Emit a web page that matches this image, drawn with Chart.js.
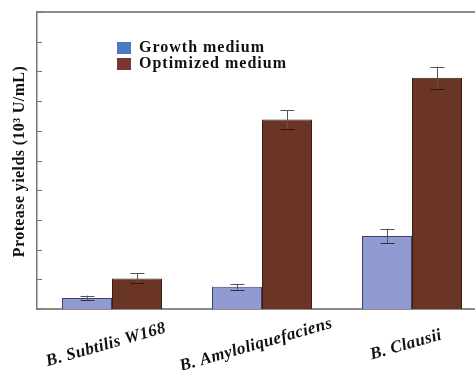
<!DOCTYPE html>
<html><head><meta charset="utf-8">
<style>html,body{margin:0;padding:0;overflow:hidden;background:#fff}#wrap{width:490px;height:370px}</style>
<script src="https://cdn.jsdelivr.net/npm/chart.js@4"></script>
</head><body>
<div id="wrap"><canvas id="c" width="490" height="370"></canvas></div>
<script>
const categories = ['B. Subtilis W168', 'B. Amyloliquefaciens', 'B. Clausii'];
const seriesNames = ['Growth medium', 'Optimized medium'];
const growth = [0.37, 0.75, 2.46];
const growthErr = [0.08, 0.10, 0.24];
const optimized = [1.03, 6.38, 7.79];
const optimizedErr = [0.17, 0.32, 0.37];
const yTitle = 'Protease yields (10\u00B3 U/mL)';

const errs = [growthErr, optimizedErr];
const legendColors = ['#4a7bc3', '#7a3431'];
const SERIF = '"Liberation Serif", "DejaVu Serif", serif';

const custom = {
  id: 'custom',
  afterDatasetsDraw(chart) {
    const ctx = chart.ctx, y = chart.scales.y;
    ctx.save();
    chart.data.datasets.forEach((ds, di) => {
      const meta = chart.getDatasetMeta(di);
      meta.data.forEach((bar, i) => {
        const v = ds.data[i], e = errs[di][i];
        const x = Math.round(bar.x) + 0.5;
        const t = y.getPixelForValue(v + e), b = y.getPixelForValue(v - e);
        ctx.strokeStyle = '#555';
        ctx.lineWidth = 1;
        ctx.beginPath();
        ctx.moveTo(x, t); ctx.lineTo(x, b);
        ctx.moveTo(x - 7, Math.round(t) + 0.5); ctx.lineTo(x + 7, Math.round(t) + 0.5);
        ctx.stroke();
        ctx.strokeStyle = di === 1 ? '#2a1510' : '#333';
        ctx.beginPath();
        ctx.moveTo(x - 7, Math.round(b) + 0.5); ctx.lineTo(x + 7, Math.round(b) + 0.5);
        ctx.stroke();
      });
    });
    ctx.restore();
  },
  afterDraw(chart) {
    const ctx = chart.ctx, a = chart.chartArea, y = chart.scales.y, x = chart.scales.x;
    ctx.save();
    // top frame line
    ctx.strokeStyle = '#8a8a8a'; ctx.lineWidth = 2;
    ctx.beginPath(); ctx.moveTo(a.left, a.top); ctx.lineTo(chart.width, a.top); ctx.stroke();
    // inward ticks
    ctx.strokeStyle = '#777'; ctx.lineWidth = 1;
    ctx.beginPath();
    y.ticks.forEach(t => {
      const p = Math.round(y.getPixelForValue(t.value)) + 0.5;
      ctx.moveTo(a.left, p); ctx.lineTo(a.left + 5, p);
    });
    ctx.stroke();
    // x labels
    ctx.fillStyle = '#111';
    ctx.font = 'italic bold 17px ' + SERIF;
    ctx.textAlign = 'center'; ctx.textBaseline = 'middle';
    categories.forEach((c, i) => {
      const px = x.getPixelForValue(i);
      ctx.save();
      ctx.translate(px - 6, a.bottom + 36);
      ctx.rotate(-16 * Math.PI / 180);
      ctx.letterSpacing = '0.4px';
      ctx.fillText(c, 0, 0);
      ctx.restore();
    });
    // y title
    ctx.save();
    ctx.font = 'bold 16px ' + SERIF;
    ctx.letterSpacing = '0.4px';
    ctx.translate(20, (a.top + a.bottom) / 2 + 1);
    ctx.rotate(-Math.PI / 2);
    ctx.fillText(yTitle, 0, 0);
    ctx.restore();
    // legend
    ctx.font = 'bold 16px ' + SERIF;
    ctx.letterSpacing = '1px';
    ctx.textAlign = 'left'; ctx.textBaseline = 'middle';
    seriesNames.forEach((n, i) => {
      const yy = 42 + i * 16;
      ctx.fillStyle = legendColors[i];
      ctx.fillRect(117, yy, 14, 12);
      ctx.fillStyle = '#111';
      ctx.fillText(n, 139, yy + 6);
    });
    ctx.restore();
  }
};

new Chart(document.getElementById('c'), {
  type: 'bar',
  data: {
    labels: categories,
    datasets: [
      { label: seriesNames[0], data: growth, backgroundColor: '#8f9bd1', borderColor: '#3b3f6b', borderWidth: 1, barPercentage: 1, categoryPercentage: 2 / 3 },
      { label: seriesNames[1], data: optimized, backgroundColor: '#6b3526', borderColor: '#3a1e16', borderWidth: 1, barPercentage: 1, categoryPercentage: 2 / 3 }
    ]
  },
  options: {
    responsive: false,
    animation: false,
    devicePixelRatio: 1,
    layout: { padding: { top: 12, right: 3, left: 0, bottom: 0 } },
    plugins: { legend: { display: false }, tooltip: { enabled: false } },
    scales: {
      x: {
        grid: { display: false },
        border: { display: true, color: '#8a8a8a', width: 2 },
        ticks: { display: false },
        afterFit(s) { s.height = 61; }
      },
      y: {
        min: 0, max: 10,
        ticks: { display: false, stepSize: 1 },
        grid: { display: false },
        border: { display: true, color: '#777', width: 1.5 },
        afterFit(s) { s.width = 37; }
      }
    }
  },
  plugins: [custom]
});
</script>
</body></html>
